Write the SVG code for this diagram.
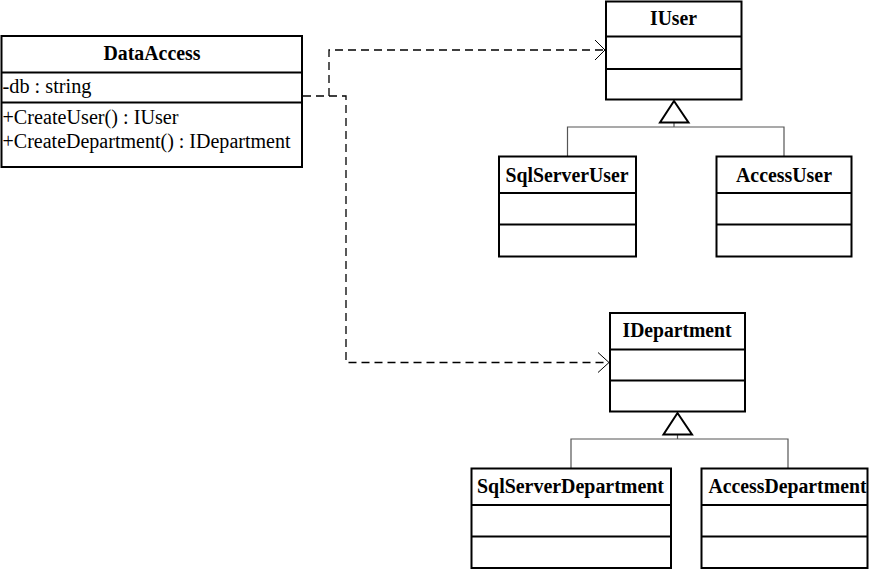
<svg xmlns="http://www.w3.org/2000/svg" width="875" height="569" viewBox="0 0 875 569">
<style>
.box{fill:#fff;stroke:#000;stroke-width:2}
.div{stroke:#000;stroke-width:2}
.title{font-family:"Liberation Serif","Times New Roman",serif;font-weight:bold;font-size:20px;text-anchor:middle;fill:#000}
.mem{font-family:"Liberation Serif","Times New Roman",serif;font-size:20px;fill:#000}
.dep{fill:none;stroke:#000;stroke-width:1.3;stroke-dasharray:8,5}
.gen{fill:none;stroke:#555;stroke-width:1.2}
.tri{fill:#fff;stroke:#000;stroke-width:2}
.head{fill:none;stroke:#000;stroke-width:1}
</style>
<rect width="875" height="569" fill="#fff"/>
<g id="connectors">
  <polyline class="dep" points="303,96 329,96 329,50 604,50"/>
  <polyline class="head" points="595,40 605,50 595,60"/>
  <polyline class="dep" points="329,96 346,96 346,362.5 608,362.5"/>
  <polyline class="head" points="598,352.5 609,362.5 598,372.5"/>
  <polyline class="gen" points="567.5,156 567.5,127 784,127 784,156"/>
  <line class="gen" x1="674" y1="122" x2="674" y2="127"/>
  <polygon class="tri" points="674,101 660,122.5 688.5,122.5"/>
  <polyline class="gen" points="571,468 571,439 788,439 788,468"/>
  <line class="gen" x1="677.5" y1="434" x2="677.5" y2="439"/>
  <polygon class="tri" points="677.5,413 663.5,434.5 692,434.5"/>
</g>
<g id="DataAccess">
  <rect class="box" x="1.5" y="36" width="300.5" height="131"/>
  <line class="div" x1="1.5" y1="72.5" x2="302" y2="72.5"/>
  <line class="div" x1="1.5" y1="102.5" x2="302" y2="102.5"/>
  <text class="title" x="152" y="59.5" textLength="97" lengthAdjust="spacingAndGlyphs">DataAccess</text>
  <text class="mem" x="2.5" y="93" textLength="89" lengthAdjust="spacingAndGlyphs">-db : string</text>
  <text class="mem" x="2.5" y="124" textLength="176" lengthAdjust="spacingAndGlyphs">+CreateUser() : IUser</text>
  <text class="mem" x="2.5" y="147.7" textLength="288" lengthAdjust="spacingAndGlyphs">+CreateDepartment() : IDepartment</text>
</g>
<g id="IUser">
  <rect class="box" x="606" y="1.5" width="135.5" height="98"/>
  <line class="div" x1="606" y1="36.5" x2="741.5" y2="36.5"/>
  <line class="div" x1="606" y1="69" x2="741.5" y2="69"/>
  <text class="title" x="673.5" y="25" textLength="47" lengthAdjust="spacingAndGlyphs">IUser</text>
</g>
<g id="SqlServerUser">
  <rect class="box" x="499" y="156.5" width="137" height="100"/>
  <line class="div" x1="499" y1="193" x2="636" y2="193"/>
  <line class="div" x1="499" y1="224.5" x2="636" y2="224.5"/>
  <text class="title" x="567" y="181.5" textLength="123" lengthAdjust="spacingAndGlyphs">SqlServerUser</text>
</g>
<g id="AccessUser">
  <rect class="box" x="716.5" y="156.5" width="135" height="100"/>
  <line class="div" x1="716.5" y1="193" x2="851.5" y2="193"/>
  <line class="div" x1="716.5" y1="224.5" x2="851.5" y2="224.5"/>
  <text class="title" x="784" y="181.5" textLength="96" lengthAdjust="spacingAndGlyphs">AccessUser</text>
</g>
<g id="IDepartment">
  <rect class="box" x="610" y="313" width="135" height="98.5"/>
  <line class="div" x1="610" y1="349.5" x2="745" y2="349.5"/>
  <line class="div" x1="610" y1="380.5" x2="745" y2="380.5"/>
  <text class="title" x="677" y="336.5" textLength="109" lengthAdjust="spacingAndGlyphs">IDepartment</text>
</g>
<g id="SqlServerDepartment">
  <rect class="box" x="471.5" y="468.5" width="199.5" height="99.5"/>
  <line class="div" x1="471.5" y1="505" x2="671" y2="505"/>
  <line class="div" x1="471.5" y1="536.5" x2="671" y2="536.5"/>
  <text class="title" x="570.5" y="492.5" textLength="187" lengthAdjust="spacingAndGlyphs">SqlServerDepartment</text>
</g>
<g id="AccessDepartment">
  <rect class="box" x="701.5" y="468.5" width="166" height="99.5"/>
  <line class="div" x1="701.5" y1="505" x2="867.5" y2="505"/>
  <line class="div" x1="701.5" y1="536.5" x2="867.5" y2="536.5"/>
  <text class="title" x="787.5" y="492.5" textLength="158" lengthAdjust="spacingAndGlyphs">AccessDepartment</text>
</g>
</svg>
